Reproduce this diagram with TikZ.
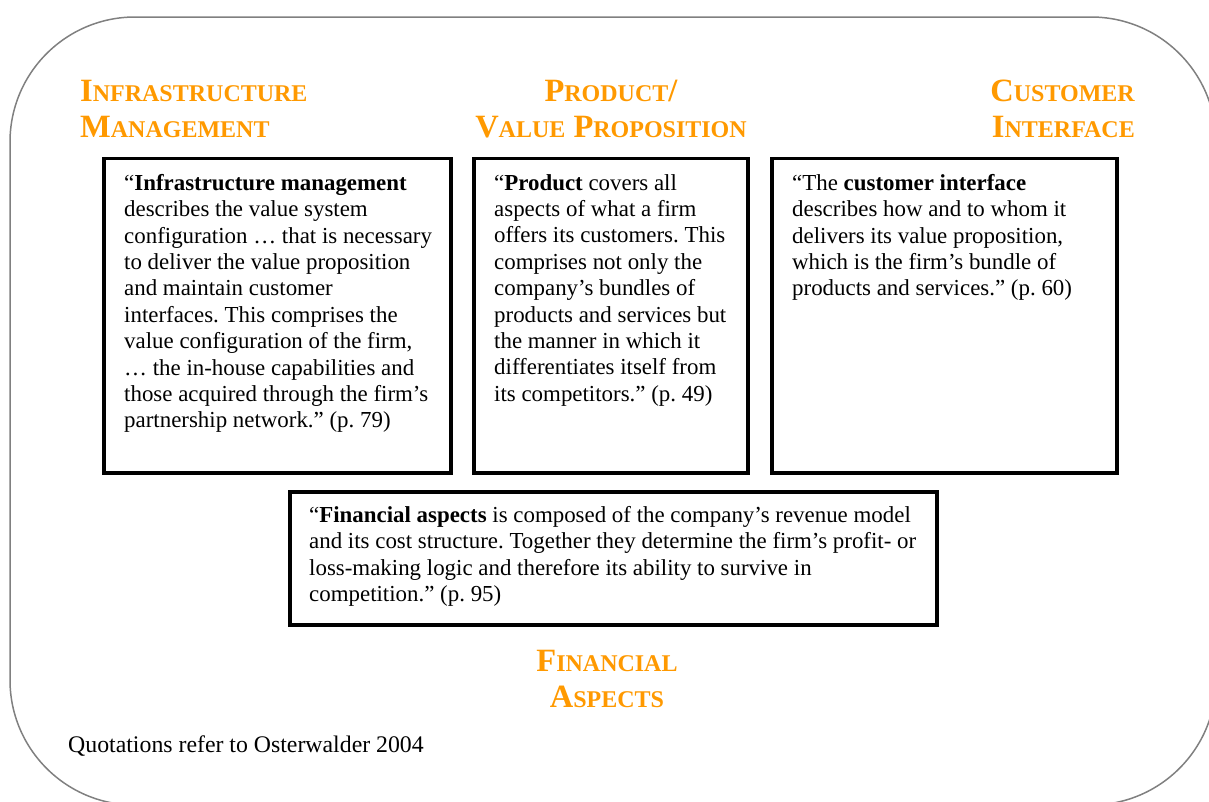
\documentclass[tikz,border=0pt]{standalone}
\usepackage{fontspec}
\setmainfont{Liberation Serif}
\frenchspacing
\definecolor{hdr}{HTML}{FF9900}
\definecolor{frame}{HTML}{808080}
\newcommand\hsc[2]{{\fontsize{32.5}{36}\selectfont #1}{\fontsize{24}{36}\selectfont #2}}
\tikzset{
  outline/.style={draw=frame, line width=1.5pt},
  qbox/.style={draw=black, line width=3.5pt, inner sep=0pt},
  qtext/.style={anchor=north west, inner sep=0pt, align=left, font=\fontsize{22.9}{26.4}\selectfont},
  header/.style={inner sep=0pt, text=hdr, font=\bfseries\fontsize{32.5}{36}\selectfont},
  note/.style={anchor=base west, inner sep=0pt, font=\fontsize{23.8}{28}\selectfont}
}
\begin{document}
\begin{tikzpicture}[x=1pt,y=-1pt]
\useasboundingbox (0,0) rectangle (1209,801);
\clip (0,0) rectangle (1209,801);
\draw[outline, rounded corners=125pt] (10,17) rectangle (1216,805);

\node[qbox, minimum width=347pt, minimum height=314.5pt] (b1) at (277.5,315.75) {};
\node[qbox, minimum width=274pt, minimum height=314.5pt] (b2) at (611,315.75) {};
\node[qbox, minimum width=345pt, minimum height=314.5pt] (b3) at (944.5,315.75) {};
\node[qbox, minimum width=647pt, minimum height=133pt] (b4) at (613.5,558.5) {};

\node[qtext] (t1) at (124,174) {“\textbf{Infrastructure management}\\describes the value system\\configuration … that is necessary\\to deliver the value proposition\\and maintain customer\\interfaces. This comprises the\\value configuration of the firm,\\… the in-house capabilities and\\those acquired through the firm’s\\partnership network.” (p. 79)};
\node[qtext] (t2) at (494,174) {“\textbf{Product} covers all\\aspects of what a firm\\offers its customers. This\\comprises not only the\\company’s bundles of\\products and services but\\the manner in which it\\differentiates itself from\\its competitors.” (p. 49)};
\node[qtext] (t3) at (792,174) {“The \textbf{customer interface}\\describes how and to whom it\\delivers its value proposition,\\which is the firm’s bundle of\\products and services.” (p. 60)};
\node[qtext] (t4) at (309,506) {“\textbf{Financial aspects} is composed of the company’s revenue model\\and its cost structure. Together they determine the firm’s profit- or\\loss-making logic and therefore its ability to survive in\\competition.” (p. 95)};

\node[header, anchor=base west, align=left] (h1) at (80,137) {\hsc{I}{NFRASTRUCTURE}\\\hsc{M}{ANAGEMENT}};
\node[header, anchor=base, align=center] (h2) at (611,137) {\hsc{P}{RODUCT}/\\\hsc{V}{ALUE} \hsc{P}{ROPOSITION}};
\node[header, anchor=base east, align=right] (h3) at (1135,137) {\hsc{C}{USTOMER}\\\hsc{I}{NTERFACE}};
\node[header, anchor=base, align=center] (h4) at (607,707) {\hsc{F}{INANCIAL}\\\hsc{A}{SPECTS}};

\node[note] (n1) at (68,752) {Quotations refer to Osterwalder 2004};
\end{tikzpicture}
\end{document}
